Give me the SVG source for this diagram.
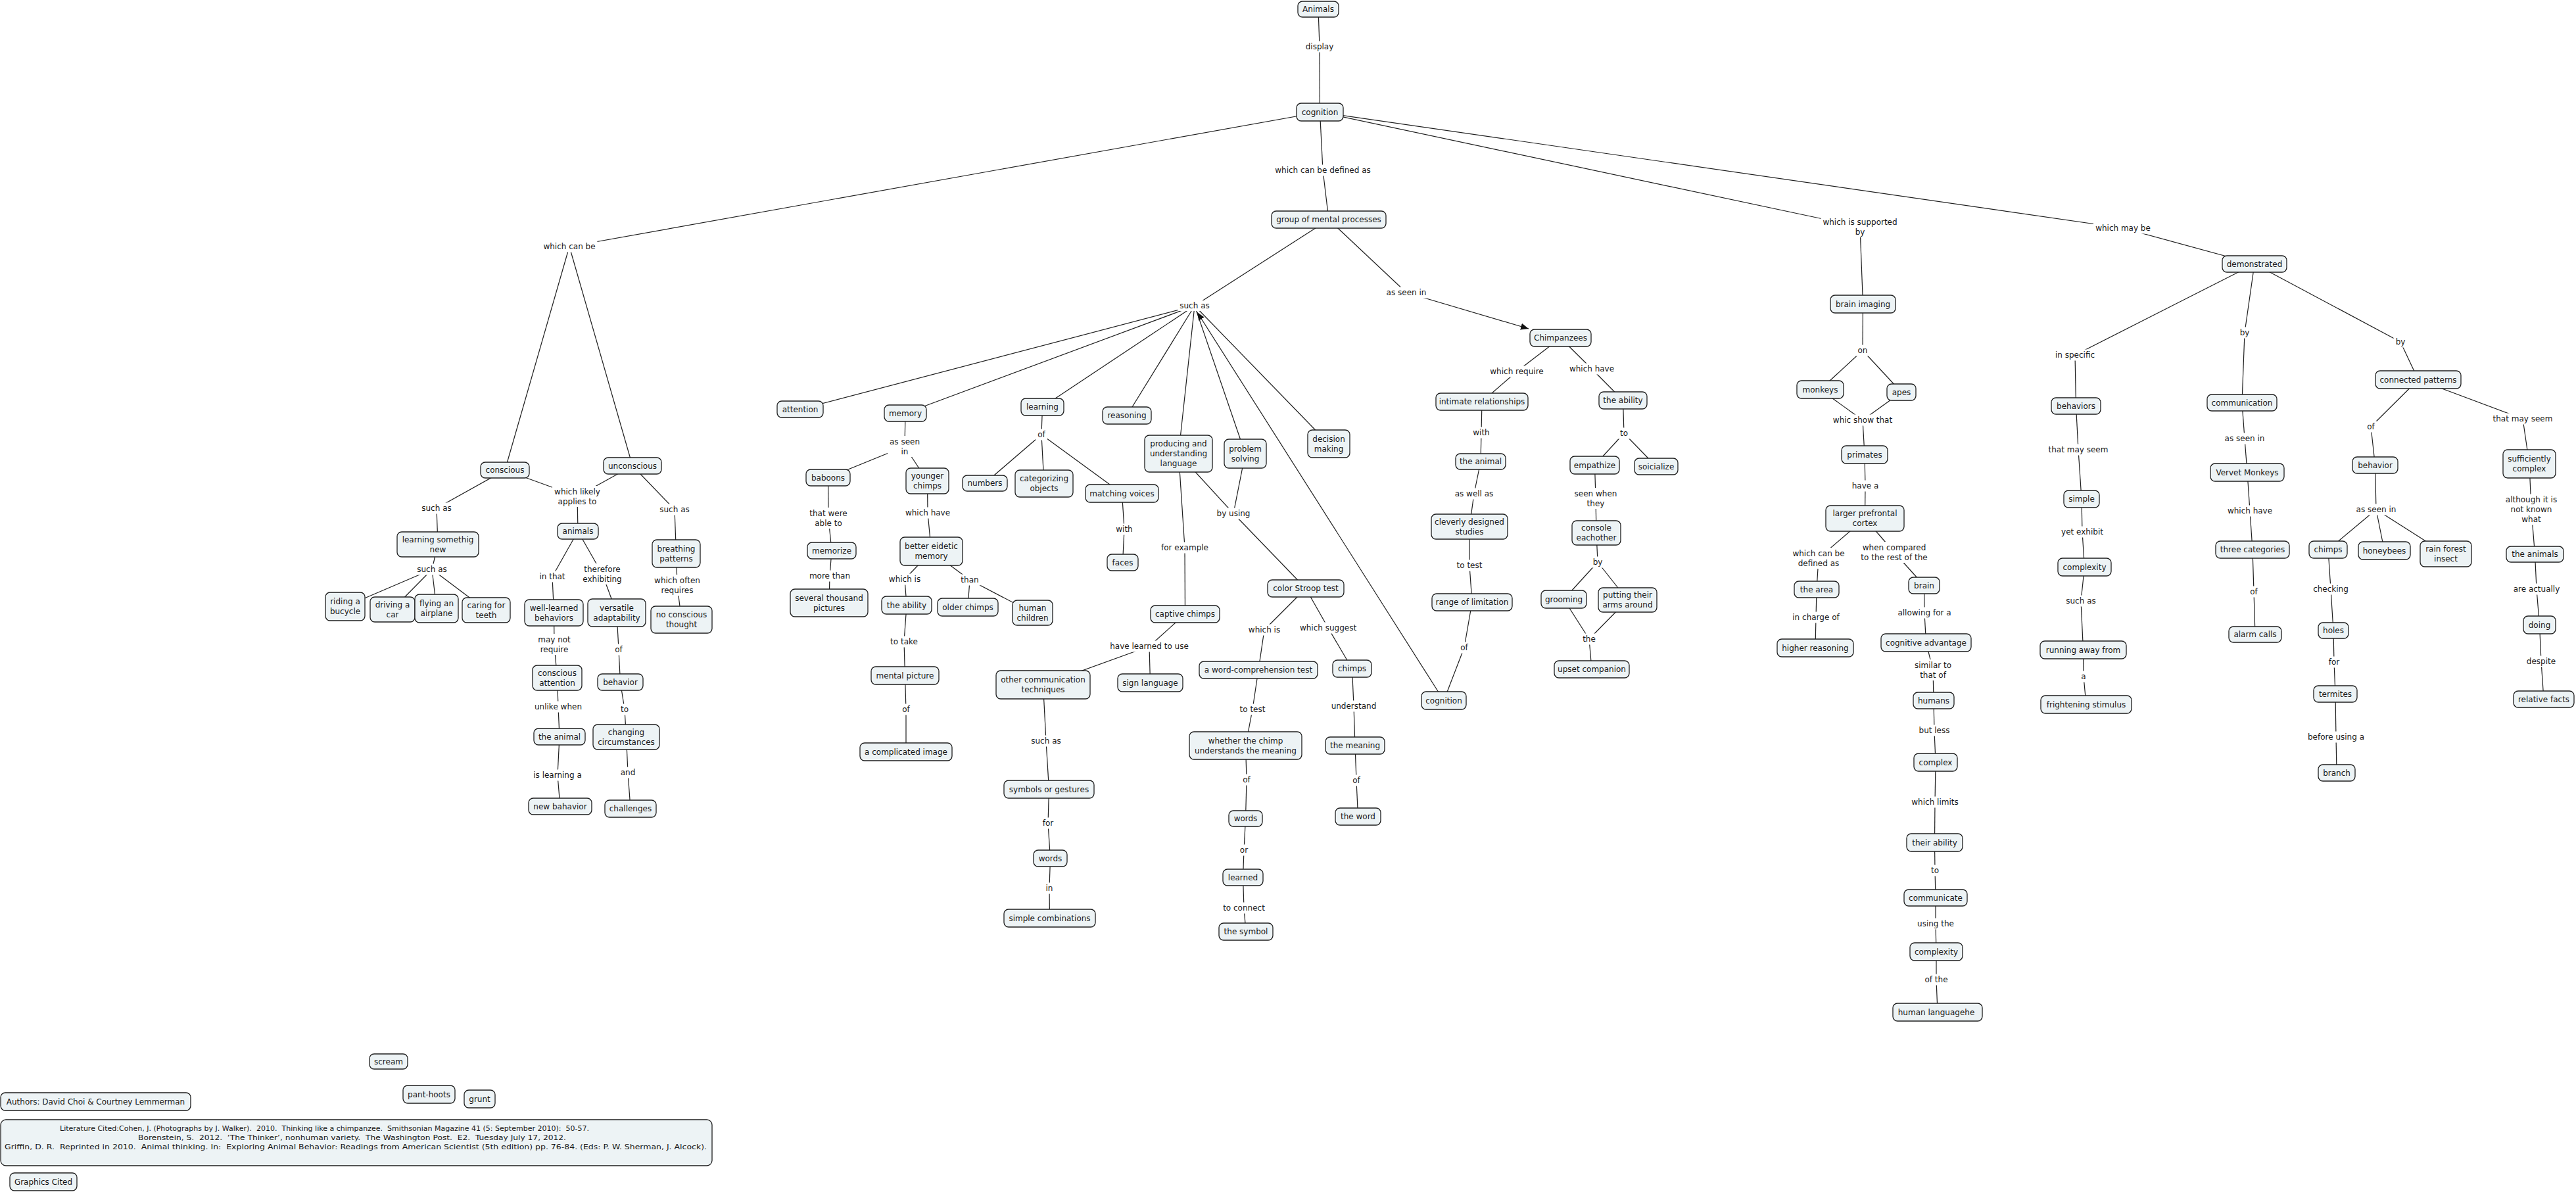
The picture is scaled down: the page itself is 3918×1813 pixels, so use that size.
<svg xmlns="http://www.w3.org/2000/svg" width="3918" height="1813" viewBox="0 0 3918 1813">
<style>
text{font-family:"DejaVu Sans",Verdana,sans-serif;font-size:12px;fill:#161616;text-anchor:middle}
.nd rect{fill:#edf3f5;stroke:#1e1e1e;stroke-width:1.3}
.lb rect{fill:#ffffff;stroke:none}
#connectors line{stroke:#1e1e1e;stroke-width:1.2}
.lit{font-size:10.5px;text-anchor:start}
</style>
<defs>
<marker id="arrow" viewBox="0 0 12 10" refX="12" refY="5" markerWidth="12" markerHeight="10" orient="auto" markerUnits="userSpaceOnUse"><path d="M0,0 L12,5 L0,10 z" fill="#111"/></marker>
</defs>
<rect x="0" y="0" width="3918" height="1813" fill="#ffffff"/>
<g id="connectors">
<line x1="2005" y1="14" x2="2007" y2="71"/><line x1="2007" y1="71" x2="2007.5" y2="170.5"/>
<line x1="2007.5" y1="170.5" x2="2012" y2="259"/><line x1="2012" y1="259" x2="2021" y2="334"/>
<line x1="2007.5" y1="170.5" x2="866" y2="375"/>
<line x1="866" y1="375" x2="768" y2="715"/><line x1="866" y1="375" x2="962" y2="708.5"/>
<line x1="2007.5" y1="170.5" x2="2829" y2="345"/><line x1="2829" y1="345" x2="2833.5" y2="462.5"/>
<line x1="2007.5" y1="170.5" x2="3229" y2="347"/><line x1="3229" y1="347" x2="3429" y2="401.5"/>
<line x1="2021" y1="334" x2="1817" y2="465"/>
<line x1="1817" y1="465" x2="1217" y2="622.5"/><line x1="1817" y1="465" x2="1377" y2="628.5"/><line x1="1817" y1="465" x2="1585.5" y2="619"/><line x1="1817" y1="465" x2="1714" y2="632"/><line x1="1817" y1="465" x2="1792.5" y2="690"/><line x1="1817" y1="465" x2="1894" y2="690"/><line x1="1817" y1="465" x2="2021" y2="675"/>
<line x1="2021" y1="334" x2="2139" y2="445"/>
<line x1="2139" y1="445" x2="2325" y2="500" marker-end="url(#arrow)"/>
<line x1="2196" y1="1065.5" x2="1821" y2="475" marker-end="url(#arrow)"/>
<line x1="1377" y1="628.5" x2="1376" y2="679"/><line x1="1376" y1="679" x2="1259.5" y2="726.5"/><line x1="1376" y1="679" x2="1410.5" y2="731.5"/>
<line x1="1259.5" y1="726.5" x2="1260" y2="788"/><line x1="1260" y1="788" x2="1265" y2="837.5"/>
<line x1="1265" y1="837.5" x2="1262" y2="876"/><line x1="1262" y1="876" x2="1261" y2="917"/>
<line x1="1410.5" y1="731.5" x2="1411" y2="780"/><line x1="1411" y1="780" x2="1416.5" y2="838.5"/>
<line x1="1416.5" y1="838.5" x2="1376" y2="881"/><line x1="1376" y1="881" x2="1379" y2="920.5"/>
<line x1="1416.5" y1="838.5" x2="1475" y2="882"/><line x1="1475" y1="882" x2="1472" y2="923.5"/><line x1="1475" y1="882" x2="1570.5" y2="932"/>
<line x1="1379" y1="920.5" x2="1375" y2="976"/><line x1="1375" y1="976" x2="1376.5" y2="1027.5"/>
<line x1="1376.5" y1="1027.5" x2="1378" y2="1079"/><line x1="1378" y1="1079" x2="1378" y2="1143.5"/>
<line x1="1585.5" y1="619" x2="1584" y2="661"/><line x1="1584" y1="661" x2="1498" y2="735"/><line x1="1584" y1="661" x2="1588" y2="735.5"/><line x1="1584" y1="661" x2="1706.5" y2="750.5"/>
<line x1="1706.5" y1="750.5" x2="1710" y2="805"/><line x1="1710" y1="805" x2="1707.5" y2="855.5"/>
<line x1="1792.5" y1="690" x2="1802" y2="833"/><line x1="1802" y1="833" x2="1802.5" y2="934"/>
<line x1="1802.5" y1="934" x2="1748" y2="983"/><line x1="1748" y1="983" x2="1586.5" y2="1041.5"/><line x1="1748" y1="983" x2="1749.5" y2="1038.5"/>
<line x1="1586.5" y1="1041.5" x2="1591" y2="1127"/><line x1="1591" y1="1127" x2="1595.5" y2="1200.5"/>
<line x1="1595.5" y1="1200.5" x2="1594" y2="1252"/><line x1="1594" y1="1252" x2="1597.5" y2="1305.5"/>
<line x1="1597.5" y1="1305.5" x2="1596" y2="1351"/><line x1="1596" y1="1351" x2="1596.5" y2="1396.5"/>
<line x1="1792.5" y1="690" x2="1876" y2="781"/><line x1="1894" y1="690" x2="1876" y2="781"/><line x1="1876" y1="781" x2="1986" y2="895"/>
<line x1="1986" y1="895" x2="1923" y2="958"/><line x1="1923" y1="958" x2="1914" y2="1019"/>
<line x1="1914" y1="1019" x2="1905" y2="1079"/><line x1="1905" y1="1079" x2="1894.5" y2="1134"/>
<line x1="1894.5" y1="1134" x2="1896" y2="1186"/><line x1="1896" y1="1186" x2="1894.5" y2="1245"/>
<line x1="1894.5" y1="1245" x2="1892" y2="1293"/><line x1="1892" y1="1293" x2="1890.5" y2="1334.5"/>
<line x1="1890.5" y1="1334.5" x2="1892" y2="1381"/><line x1="1892" y1="1381" x2="1895" y2="1417"/>
<line x1="1986" y1="895" x2="2020" y2="955"/><line x1="2020" y1="955" x2="2056.5" y2="1017"/>
<line x1="2056.5" y1="1017" x2="2059" y2="1074"/><line x1="2059" y1="1074" x2="2061" y2="1134"/>
<line x1="2061" y1="1134" x2="2063" y2="1187"/><line x1="2063" y1="1187" x2="2065.5" y2="1242"/>
<line x1="2373.5" y1="514" x2="2307" y2="565"/><line x1="2307" y1="565" x2="2254" y2="611"/>
<line x1="2254" y1="611" x2="2253" y2="658"/><line x1="2253" y1="658" x2="2252" y2="702"/>
<line x1="2252" y1="702" x2="2242" y2="751"/><line x1="2242" y1="751" x2="2235" y2="801"/>
<line x1="2235" y1="801" x2="2235" y2="860"/><line x1="2235" y1="860" x2="2239" y2="916"/>
<line x1="2239" y1="916" x2="2227" y2="985"/><line x1="2227" y1="985" x2="2196" y2="1065.5"/>
<line x1="2373.5" y1="514" x2="2421" y2="561"/><line x1="2421" y1="561" x2="2468.5" y2="609"/>
<line x1="2468.5" y1="609" x2="2470" y2="659"/><line x1="2470" y1="659" x2="2425.5" y2="707.5"/><line x1="2470" y1="659" x2="2519" y2="709.5"/>
<line x1="2425.5" y1="707.5" x2="2427" y2="758"/><line x1="2427" y1="758" x2="2428" y2="810.5"/>
<line x1="2428" y1="810.5" x2="2430" y2="855"/><line x1="2430" y1="855" x2="2378.5" y2="911.5"/><line x1="2430" y1="855" x2="2475.5" y2="912.5"/>
<line x1="2378.5" y1="911.5" x2="2417" y2="972"/><line x1="2475.5" y1="912.5" x2="2417" y2="972"/><line x1="2417" y1="972" x2="2421" y2="1018"/>
<line x1="2833.5" y1="462.5" x2="2833" y2="533"/><line x1="2833" y1="533" x2="2768.5" y2="592.5"/><line x1="2833" y1="533" x2="2892" y2="596.5"/>
<line x1="2768.5" y1="592.5" x2="2833" y2="639"/><line x1="2892" y1="596.5" x2="2833" y2="639"/><line x1="2833" y1="639" x2="2836" y2="691.5"/>
<line x1="2836" y1="691.5" x2="2837" y2="739"/><line x1="2837" y1="739" x2="2836.5" y2="788.5"/>
<line x1="2836.5" y1="788.5" x2="2766" y2="849"/><line x1="2766" y1="849" x2="2763" y2="896.5"/>
<line x1="2763" y1="896.5" x2="2762" y2="939"/><line x1="2762" y1="939" x2="2761" y2="985.5"/>
<line x1="2836.5" y1="788.5" x2="2881" y2="840"/><line x1="2881" y1="840" x2="2926.5" y2="890.5"/>
<line x1="2926.5" y1="890.5" x2="2927" y2="932"/><line x1="2927" y1="932" x2="2929.5" y2="977.5"/>
<line x1="2929.5" y1="977.5" x2="2940" y2="1019"/><line x1="2940" y1="1019" x2="2941" y2="1065.5"/>
<line x1="2941" y1="1065.5" x2="2942" y2="1111"/><line x1="2942" y1="1111" x2="2944" y2="1159.5"/>
<line x1="2944" y1="1159.5" x2="2943" y2="1220"/><line x1="2943" y1="1220" x2="2942.5" y2="1281.5"/>
<line x1="2942.5" y1="1281.5" x2="2943" y2="1324"/><line x1="2943" y1="1324" x2="2944" y2="1365.5"/>
<line x1="2944" y1="1365.5" x2="2944" y2="1405"/><line x1="2944" y1="1405" x2="2945" y2="1447.5"/>
<line x1="2945" y1="1447.5" x2="2945" y2="1490"/><line x1="2945" y1="1490" x2="2947" y2="1539.5"/>
<line x1="3429" y1="401.5" x2="3156" y2="540"/><line x1="3156" y1="540" x2="3157.5" y2="617.5"/>
<line x1="3157.5" y1="617.5" x2="3161" y2="684"/><line x1="3161" y1="684" x2="3166" y2="759"/>
<line x1="3166" y1="759" x2="3167" y2="809"/><line x1="3167" y1="809" x2="3170.5" y2="862.5"/>
<line x1="3170.5" y1="862.5" x2="3165" y2="914"/><line x1="3165" y1="914" x2="3168.5" y2="988.5"/>
<line x1="3168.5" y1="988.5" x2="3169" y2="1029"/><line x1="3169" y1="1029" x2="3173" y2="1071.5"/>
<line x1="3429" y1="401.5" x2="3414" y2="506"/><line x1="3414" y1="506" x2="3410" y2="612.5"/>
<line x1="3410" y1="612.5" x2="3414" y2="667"/><line x1="3414" y1="667" x2="3418" y2="718.5"/>
<line x1="3418" y1="718.5" x2="3422" y2="777"/><line x1="3422" y1="777" x2="3426" y2="836"/>
<line x1="3426" y1="836" x2="3428" y2="900"/><line x1="3428" y1="900" x2="3430" y2="965"/>
<line x1="3429" y1="401.5" x2="3651" y2="520"/><line x1="3651" y1="520" x2="3678" y2="577.5"/>
<line x1="3678" y1="577.5" x2="3606" y2="649"/><line x1="3606" y1="649" x2="3612.5" y2="707.5"/>
<line x1="3678" y1="577.5" x2="3837" y2="637"/><line x1="3837" y1="637" x2="3847" y2="705.5"/>
<line x1="3612.5" y1="707.5" x2="3614" y2="775"/><line x1="3614" y1="775" x2="3541" y2="836"/><line x1="3614" y1="775" x2="3626.5" y2="837.5"/><line x1="3614" y1="775" x2="3720" y2="842.5"/>
<line x1="3541" y1="836" x2="3545" y2="896"/><line x1="3545" y1="896" x2="3549" y2="959"/>
<line x1="3549" y1="959" x2="3550" y2="1007"/><line x1="3550" y1="1007" x2="3552" y2="1055.5"/>
<line x1="3552" y1="1055.5" x2="3553" y2="1121"/><line x1="3553" y1="1121" x2="3554" y2="1175.5"/>
<line x1="3847" y1="705.5" x2="3850" y2="775"/><line x1="3850" y1="775" x2="3855.5" y2="843"/>
<line x1="3855.5" y1="843" x2="3858" y2="896"/><line x1="3858" y1="896" x2="3862.5" y2="950.5"/>
<line x1="3862.5" y1="950.5" x2="3865" y2="1006"/><line x1="3865" y1="1006" x2="3869" y2="1063.5"/>
<line x1="768" y1="715" x2="664" y2="773"/><line x1="664" y1="773" x2="666" y2="828"/>
<line x1="666" y1="828" x2="657" y2="866"/><line x1="657" y1="866" x2="525" y2="922.5"/><line x1="657" y1="866" x2="597" y2="927"/><line x1="657" y1="866" x2="664" y2="925.5"/><line x1="657" y1="866" x2="739.5" y2="928"/>
<line x1="768" y1="715" x2="878" y2="755"/><line x1="962" y1="708.5" x2="878" y2="755"/><line x1="878" y1="755" x2="879" y2="808"/>
<line x1="962" y1="708.5" x2="1026" y2="775"/><line x1="1026" y1="775" x2="1028.5" y2="842"/>
<line x1="1028.5" y1="842" x2="1030" y2="890"/><line x1="1030" y1="890" x2="1036.5" y2="942.5"/>
<line x1="879" y1="808" x2="840" y2="877"/><line x1="840" y1="877" x2="842.5" y2="932"/>
<line x1="842.5" y1="932" x2="843" y2="980"/><line x1="843" y1="980" x2="847.5" y2="1031"/>
<line x1="847.5" y1="1031" x2="849" y2="1075"/><line x1="849" y1="1075" x2="851" y2="1120.5"/>
<line x1="851" y1="1120.5" x2="848" y2="1179"/><line x1="848" y1="1179" x2="852" y2="1226.5"/>
<line x1="879" y1="808" x2="916" y2="873"/><line x1="916" y1="873" x2="938" y2="932"/>
<line x1="938" y1="932" x2="941" y2="988"/><line x1="941" y1="988" x2="943.5" y2="1037.5"/>
<line x1="943.5" y1="1037.5" x2="950" y2="1079"/><line x1="950" y1="1079" x2="952.5" y2="1121"/>
<line x1="952.5" y1="1121" x2="955" y2="1175"/><line x1="955" y1="1175" x2="959" y2="1230"/>
</g>
<g id="labels">
<g id="l-display" class="lb"><rect x="1982.5" y="62.5" width="49" height="17"/><text x="2007" y="75">display</text></g>
<g id="l-defined" class="lb"><rect x="1936.5" y="250.5" width="151" height="17"/><text x="2012" y="263">which can be defined as</text></g>
<g id="l-whichcanbe" class="lb"><rect x="823.5" y="366.5" width="85" height="17"/><text x="866" y="379">which can be</text></g>
<g id="l-supported" class="lb"><rect x="2769.5" y="329" width="119" height="32"/><text x="2829" y="341.5">which is supported<tspan x="2829" dy="15">by</tspan></text></g>
<g id="l-maybe" class="lb"><rect x="3184" y="338.5" width="90" height="17"/><text x="3229" y="351">which may be</text></g>
<g id="l-suchas1" class="lb"><rect x="1791.5" y="457" width="51" height="16"/><text x="1817" y="469">such as</text></g>
<g id="l-asseenin1" class="lb"><rect x="2105.5" y="436.5" width="67" height="17"/><text x="2139" y="449">as seen in</text></g>
<g id="l-asseenmem" class="lb"><rect x="1350" y="663" width="52" height="32"/><text x="1376" y="675.5">as seen<tspan x="1376" dy="15">in</tspan></text></g>
<g id="l-oflearn" class="lb"><rect x="1575" y="652.5" width="18" height="17"/><text x="1584" y="665">of</text></g>
<g id="l-ablet" class="lb"><rect x="1228" y="772" width="64" height="32"/><text x="1260" y="784.5">that were<tspan x="1260" dy="15">able to</tspan></text></g>
<g id="l-whichhave1" class="lb"><rect x="1374" y="771.5" width="74" height="17"/><text x="1411" y="784">which have</text></g>
<g id="l-with1" class="lb"><rect x="1694.5" y="796.5" width="31" height="17"/><text x="1710" y="809">with</text></g>
<g id="l-forexample" class="lb"><rect x="1763" y="824.5" width="78" height="17"/><text x="1802" y="837">for example</text></g>
<g id="l-byusing" class="lb"><rect x="1847.5" y="772.5" width="57" height="17"/><text x="1876" y="785">by using</text></g>
<g id="l-morethan" class="lb"><rect x="1228" y="867.5" width="68" height="17"/><text x="1262" y="880">more than</text></g>
<g id="l-whichis1" class="lb"><rect x="1349" y="872.5" width="54" height="17"/><text x="1376" y="885">which is</text></g>
<g id="l-than" class="lb"><rect x="1458.5" y="873.5" width="33" height="17"/><text x="1475" y="886">than</text></g>
<g id="l-totake" class="lb"><rect x="1351" y="967.5" width="48" height="17"/><text x="1375" y="980">to take</text></g>
<g id="l-ofmental" class="lb"><rect x="1369" y="1070.5" width="18" height="17"/><text x="1378" y="1083">of</text></g>
<g id="l-havelearned" class="lb"><rect x="1685" y="974.5" width="126" height="17"/><text x="1748" y="987">have learned to use</text></g>
<g id="l-whichis2" class="lb"><rect x="1896" y="949.5" width="54" height="17"/><text x="1923" y="962">which is</text></g>
<g id="l-suggest" class="lb"><rect x="1974" y="946.5" width="92" height="17"/><text x="2020" y="959">which suggest</text></g>
<g id="l-suchasother" class="lb"><rect x="1565.5" y="1118.5" width="51" height="17"/><text x="1591" y="1131">such as</text></g>
<g id="l-for" class="lb"><rect x="1583" y="1243.5" width="22" height="17"/><text x="1594" y="1256">for</text></g>
<g id="l-in" class="lb"><rect x="1587.5" y="1342.5" width="17" height="17"/><text x="1596" y="1355">in</text></g>
<g id="l-totest1" class="lb"><rect x="1882.5" y="1070.5" width="45" height="17"/><text x="1905" y="1083">to test</text></g>
<g id="l-understand" class="lb"><rect x="2021.5" y="1065.5" width="75" height="17"/><text x="2059" y="1078">understand</text></g>
<g id="l-ofwhether" class="lb"><rect x="1887" y="1177.5" width="18" height="17"/><text x="1896" y="1190">of</text></g>
<g id="l-ofmeaning" class="lb"><rect x="2054" y="1178.5" width="18" height="17"/><text x="2063" y="1191">of</text></g>
<g id="l-or" class="lb"><rect x="1883" y="1284.5" width="18" height="17"/><text x="1892" y="1297">or</text></g>
<g id="l-toconnect" class="lb"><rect x="1857.5" y="1372.5" width="69" height="17"/><text x="1892" y="1385">to connect</text></g>
<g id="l-require" class="lb"><rect x="2263" y="556.5" width="88" height="17"/><text x="2307" y="569">which require</text></g>
<g id="l-whichhave2" class="lb"><rect x="2384" y="552.5" width="74" height="17"/><text x="2421" y="565">which have</text></g>
<g id="l-with2" class="lb"><rect x="2237.5" y="649.5" width="31" height="17"/><text x="2253" y="662">with</text></g>
<g id="l-to1" class="lb"><rect x="2461" y="650.5" width="18" height="17"/><text x="2470" y="663">to</text></g>
<g id="l-aswellas" class="lb"><rect x="2209.5" y="742.5" width="65" height="17"/><text x="2242" y="755">as well as</text></g>
<g id="l-seenwhen" class="lb"><rect x="2391.5" y="742" width="71" height="32"/><text x="2427" y="754.5">seen when<tspan x="2427" dy="15">they</tspan></text></g>
<g id="l-totest2" class="lb"><rect x="2212.5" y="851.5" width="45" height="17"/><text x="2235" y="864">to test</text></g>
<g id="l-by1" class="lb"><rect x="2419.5" y="846.5" width="21" height="17"/><text x="2430" y="859">by</text></g>
<g id="l-ofrange" class="lb"><rect x="2218" y="976.5" width="18" height="17"/><text x="2227" y="989">of</text></g>
<g id="l-the" class="lb"><rect x="2404" y="963.5" width="26" height="17"/><text x="2417" y="976">the</text></g>
<g id="l-on" class="lb"><rect x="2822.5" y="524.5" width="21" height="17"/><text x="2833" y="537">on</text></g>
<g id="l-whicshow" class="lb"><rect x="2785" y="630.5" width="96" height="17"/><text x="2833" y="643">whic show that</text></g>
<g id="l-havea" class="lb"><rect x="2813.5" y="730.5" width="47" height="17"/><text x="2837" y="743">have a</text></g>
<g id="l-defined2" class="lb"><rect x="2723.5" y="833" width="85" height="32"/><text x="2766" y="845.5">which can be<tspan x="2766" dy="15">defined as</tspan></text></g>
<g id="l-compared" class="lb"><rect x="2827.5" y="824" width="107" height="32"/><text x="2881" y="836.5">when compared<tspan x="2881" dy="15">to the rest of the</tspan></text></g>
<g id="l-incharge" class="lb"><rect x="2723.5" y="930.5" width="77" height="17"/><text x="2762" y="943">in charge of</text></g>
<g id="l-allowing" class="lb"><rect x="2883.5" y="923.5" width="87" height="17"/><text x="2927" y="936">allowing for a</text></g>
<g id="l-similar" class="lb"><rect x="2909" y="1003" width="62" height="32"/><text x="2940" y="1015.5">similar to<tspan x="2940" dy="15">that of</tspan></text></g>
<g id="l-butless" class="lb"><rect x="2915.5" y="1102.5" width="53" height="17"/><text x="2942" y="1115">but less</text></g>
<g id="l-limits" class="lb"><rect x="2904.5" y="1211.5" width="77" height="17"/><text x="2943" y="1224">which limits</text></g>
<g id="l-to2" class="lb"><rect x="2934" y="1315.5" width="18" height="17"/><text x="2943" y="1328">to</text></g>
<g id="l-usingthe" class="lb"><rect x="2913" y="1396.5" width="62" height="17"/><text x="2944" y="1409">using the</text></g>
<g id="l-ofthe" class="lb"><rect x="2924.5" y="1481.5" width="41" height="17"/><text x="2945" y="1494">of the</text></g>
<g id="l-inspecific" class="lb"><rect x="3123" y="531.5" width="66" height="17"/><text x="3156" y="544">in specific</text></g>
<g id="l-mayseem1" class="lb"><rect x="3112.5" y="675.5" width="97" height="17"/><text x="3161" y="688">that may seem</text></g>
<g id="l-yetexhibit" class="lb"><rect x="3132" y="800.5" width="70" height="17"/><text x="3167" y="813">yet exhibit</text></g>
<g id="l-suchascx" class="lb"><rect x="3139.5" y="905.5" width="51" height="17"/><text x="3165" y="918">such as</text></g>
<g id="l-a" class="lb"><rect x="3162.5" y="1020.5" width="13" height="17"/><text x="3169" y="1033">a</text></g>
<g id="l-by2" class="lb"><rect x="3403.5" y="497.5" width="21" height="17"/><text x="3414" y="510">by</text></g>
<g id="l-by3" class="lb"><rect x="3640.5" y="511.5" width="21" height="17"/><text x="3651" y="524">by</text></g>
<g id="l-asseenin2" class="lb"><rect x="3380.5" y="658.5" width="67" height="17"/><text x="3414" y="671">as seen in</text></g>
<g id="l-ofcp" class="lb"><rect x="3597" y="640.5" width="18" height="17"/><text x="3606" y="653">of</text></g>
<g id="l-mayseem2" class="lb"><rect x="3788.5" y="628.5" width="97" height="17"/><text x="3837" y="641">that may seem</text></g>
<g id="l-whichhave3" class="lb"><rect x="3385" y="768.5" width="74" height="17"/><text x="3422" y="781">which have</text></g>
<g id="l-asseenin3" class="lb"><rect x="3580.5" y="766.5" width="67" height="17"/><text x="3614" y="779">as seen in</text></g>
<g id="l-although" class="lb"><rect x="3808" y="751.5" width="84" height="47"/><text x="3850" y="764">although it is<tspan x="3850" dy="15">not known</tspan><tspan x="3850" dy="15">what</tspan></text></g>
<g id="l-ofthree" class="lb"><rect x="3419" y="891.5" width="18" height="17"/><text x="3428" y="904">of</text></g>
<g id="l-checking" class="lb"><rect x="3515.5" y="887.5" width="59" height="17"/><text x="3545" y="900">checking</text></g>
<g id="l-actually" class="lb"><rect x="3819.5" y="887.5" width="77" height="17"/><text x="3858" y="900">are actually</text></g>
<g id="l-for2" class="lb"><rect x="3539" y="998.5" width="22" height="17"/><text x="3550" y="1011">for</text></g>
<g id="l-despite" class="lb"><rect x="3840" y="997.5" width="50" height="17"/><text x="3865" y="1010">despite</text></g>
<g id="l-beforeusing" class="lb"><rect x="3507" y="1112.5" width="92" height="17"/><text x="3553" y="1125">before using a</text></g>
<g id="l-suchasc" class="lb"><rect x="638.5" y="764.5" width="51" height="17"/><text x="664" y="777">such as</text></g>
<g id="l-likely" class="lb"><rect x="840" y="739" width="76" height="32"/><text x="878" y="751.5">which likely<tspan x="878" dy="15">applies to</tspan></text></g>
<g id="l-suchasu" class="lb"><rect x="1000.5" y="766.5" width="51" height="17"/><text x="1026" y="779">such as</text></g>
<g id="l-suchasl" class="lb"><rect x="631.5" y="857.5" width="51" height="17"/><text x="657" y="870">such as</text></g>
<g id="l-inthat" class="lb"><rect x="817.5" y="868.5" width="45" height="17"/><text x="840" y="881">in that</text></g>
<g id="l-therefore" class="lb"><rect x="883" y="857" width="66" height="32"/><text x="916" y="869.5">therefore<tspan x="916" dy="15">exhibiting</tspan></text></g>
<g id="l-often" class="lb"><rect x="992" y="874" width="76" height="32"/><text x="1030" y="886.5">which often<tspan x="1030" dy="15">requires</tspan></text></g>
<g id="l-maynot" class="lb"><rect x="815" y="964" width="56" height="32"/><text x="843" y="976.5">may not<tspan x="843" dy="15">require</tspan></text></g>
<g id="l-ofvers" class="lb"><rect x="932" y="979.5" width="18" height="17"/><text x="941" y="992">of</text></g>
<g id="l-unlike" class="lb"><rect x="810" y="1066.5" width="78" height="17"/><text x="849" y="1079">unlike when</text></g>
<g id="l-to3" class="lb"><rect x="941" y="1070.5" width="18" height="17"/><text x="950" y="1083">to</text></g>
<g id="l-islearning" class="lb"><rect x="808" y="1170.5" width="80" height="17"/><text x="848" y="1183">is learning a</text></g>
<g id="l-and" class="lb"><rect x="940.5" y="1166.5" width="29" height="17"/><text x="955" y="1179">and</text></g>
</g>
<g id="n-animals" class="nd"><rect x="1974" y="2" width="62" height="24" rx="7"/><text x="2005" y="18">Animals</text></g>
<g id="n-cognition" class="nd"><rect x="1972" y="157" width="71" height="27" rx="7"/><text x="2007.5" y="174.5">cognition</text></g>
<g id="n-group" class="nd"><rect x="1934" y="321" width="174" height="26" rx="7"/><text x="2021" y="338">group of mental processes</text></g>
<g id="n-conscious" class="nd"><rect x="731" y="703" width="74" height="24" rx="7"/><text x="768" y="719">conscious</text></g>
<g id="n-unconscious" class="nd"><rect x="918" y="696" width="88" height="25" rx="7"/><text x="962" y="712.5">unconscious</text></g>
<g id="n-learnnew" class="nd"><rect x="604" y="809" width="124" height="38" rx="7"/><text x="666" y="824.5">learning somethig<tspan x="666" dy="15">new</tspan></text></g>
<g id="n-animals2" class="nd"><rect x="848" y="796" width="62" height="24" rx="7"/><text x="879" y="812">animals</text></g>
<g id="n-breathing" class="nd"><rect x="992" y="821" width="73" height="42" rx="7"/><text x="1028.5" y="838.5">breathing<tspan x="1028.5" dy="15">patterns</tspan></text></g>
<g id="n-riding" class="nd"><rect x="495" y="901" width="60" height="43" rx="7"/><text x="525" y="919">riding a<tspan x="525" dy="15">bucycle</tspan></text></g>
<g id="n-driving" class="nd"><rect x="563" y="908" width="68" height="38" rx="7"/><text x="597" y="923.5">driving a<tspan x="597" dy="15">car</tspan></text></g>
<g id="n-flying" class="nd"><rect x="631" y="904" width="66" height="43" rx="7"/><text x="664" y="922">flying an<tspan x="664" dy="15">airplane</tspan></text></g>
<g id="n-caring" class="nd"><rect x="703" y="909" width="73" height="38" rx="7"/><text x="739.5" y="924.5">caring for<tspan x="739.5" dy="15">teeth</tspan></text></g>
<g id="n-welllearned" class="nd"><rect x="798" y="912" width="89" height="40" rx="7"/><text x="842.5" y="928.5">well-learned<tspan x="842.5" dy="15">behaviors</tspan></text></g>
<g id="n-versatile" class="nd"><rect x="894" y="911" width="88" height="42" rx="7"/><text x="938" y="928.5">versatile<tspan x="938" dy="15">adaptability</tspan></text></g>
<g id="n-noconscious" class="nd"><rect x="990" y="922" width="93" height="41" rx="7"/><text x="1036.5" y="939">no conscious<tspan x="1036.5" dy="15">thought</tspan></text></g>
<g id="n-consattn" class="nd"><rect x="810" y="1012" width="75" height="38" rx="7"/><text x="847.5" y="1027.5">conscious<tspan x="847.5" dy="15">attention</tspan></text></g>
<g id="n-behavior1" class="nd"><rect x="909" y="1025" width="69" height="25" rx="7"/><text x="943.5" y="1041.5">behavior</text></g>
<g id="n-theanimal1" class="nd"><rect x="812" y="1108" width="78" height="25" rx="7"/><text x="851" y="1124.5">the animal</text></g>
<g id="n-changing" class="nd"><rect x="902" y="1102" width="101" height="38" rx="7"/><text x="952.5" y="1117.5">changing<tspan x="952.5" dy="15">circumstances</tspan></text></g>
<g id="n-newbeh" class="nd"><rect x="804" y="1214" width="96" height="25" rx="7"/><text x="852" y="1230.5">new bahavior</text></g>
<g id="n-challenges" class="nd"><rect x="920" y="1217" width="78" height="26" rx="7"/><text x="959" y="1234">challenges</text></g>
<g id="n-attention" class="nd"><rect x="1182" y="610" width="70" height="25" rx="7"/><text x="1217" y="626.5">attention</text></g>
<g id="n-memory" class="nd"><rect x="1345" y="616" width="64" height="25" rx="7"/><text x="1377" y="632.5">memory</text></g>
<g id="n-learning" class="nd"><rect x="1553" y="606" width="65" height="26" rx="7"/><text x="1585.5" y="623">learning</text></g>
<g id="n-reasoning" class="nd"><rect x="1677" y="619" width="74" height="26" rx="7"/><text x="1714" y="636">reasoning</text></g>
<g id="n-producing" class="nd"><rect x="1741" y="662" width="103" height="56" rx="7"/><text x="1792.5" y="679">producing and<tspan x="1792.5" dy="15">understanding</tspan><tspan x="1792.5" dy="15">language</tspan></text></g>
<g id="n-problem" class="nd"><rect x="1862" y="668" width="64" height="44" rx="7"/><text x="1894" y="686.5">problem<tspan x="1894" dy="15">solving</tspan></text></g>
<g id="n-decision" class="nd"><rect x="1989" y="654" width="64" height="42" rx="7"/><text x="2021" y="671.5">decision<tspan x="2021" dy="15">making</tspan></text></g>
<g id="n-baboons" class="nd"><rect x="1226" y="714" width="67" height="25" rx="7"/><text x="1259.5" y="730.5">baboons</text></g>
<g id="n-younger" class="nd"><rect x="1378" y="712" width="65" height="39" rx="7"/><text x="1410.5" y="728">younger<tspan x="1410.5" dy="15">chimps</tspan></text></g>
<g id="n-numbers" class="nd"><rect x="1464" y="723" width="68" height="24" rx="7"/><text x="1498" y="739">numbers</text></g>
<g id="n-categorizing" class="nd"><rect x="1544" y="715" width="88" height="41" rx="7"/><text x="1588" y="732">categorizing<tspan x="1588" dy="15">objects</tspan></text></g>
<g id="n-matching" class="nd"><rect x="1651" y="737" width="111" height="27" rx="7"/><text x="1706.5" y="754.5">matching voices</text></g>
<g id="n-faces" class="nd"><rect x="1684" y="843" width="47" height="25" rx="7"/><text x="1707.5" y="859.5">faces</text></g>
<g id="n-memorize" class="nd"><rect x="1228" y="825" width="74" height="25" rx="7"/><text x="1265" y="841.5">memorize</text></g>
<g id="n-eidetic" class="nd"><rect x="1369" y="817" width="95" height="43" rx="7"/><text x="1416.5" y="835">better eidetic<tspan x="1416.5" dy="15">memory</tspan></text></g>
<g id="n-several" class="nd"><rect x="1202" y="896" width="118" height="42" rx="7"/><text x="1261" y="913.5">several thousand<tspan x="1261" dy="15">pictures</tspan></text></g>
<g id="n-ability1" class="nd"><rect x="1341" y="907" width="76" height="27" rx="7"/><text x="1379" y="924.5">the ability</text></g>
<g id="n-older" class="nd"><rect x="1426" y="910" width="92" height="27" rx="7"/><text x="1472" y="927.5">older chimps</text></g>
<g id="n-human" class="nd"><rect x="1540" y="913" width="61" height="38" rx="7"/><text x="1570.5" y="928.5">human<tspan x="1570.5" dy="15">children</tspan></text></g>
<g id="n-stroop" class="nd"><rect x="1928" y="882" width="116" height="26" rx="7"/><text x="1986" y="899">color Stroop test</text></g>
<g id="n-captive" class="nd"><rect x="1750" y="921" width="105" height="26" rx="7"/><text x="1802.5" y="938">captive chimps</text></g>
<g id="n-mental" class="nd"><rect x="1325" y="1014" width="103" height="27" rx="7"/><text x="1376.5" y="1031.5">mental picture</text></g>
<g id="n-complicated" class="nd"><rect x="1308" y="1130" width="140" height="27" rx="7"/><text x="1378" y="1147.5">a complicated image</text></g>
<g id="n-othercomm" class="nd"><rect x="1515" y="1020" width="143" height="43" rx="7"/><text x="1586.5" y="1038">other communication<tspan x="1586.5" dy="15">techniques</tspan></text></g>
<g id="n-sign" class="nd"><rect x="1700" y="1025" width="99" height="27" rx="7"/><text x="1749.5" y="1042.5">sign language</text></g>
<g id="n-symbols" class="nd"><rect x="1527" y="1187" width="137" height="27" rx="7"/><text x="1595.5" y="1204.5">symbols or gestures</text></g>
<g id="n-words1" class="nd"><rect x="1572" y="1293" width="51" height="25" rx="7"/><text x="1597.5" y="1309.5">words</text></g>
<g id="n-simplecomb" class="nd"><rect x="1527" y="1383" width="139" height="27" rx="7"/><text x="1596.5" y="1400.5">simple combinations</text></g>
<g id="n-wordcomp" class="nd"><rect x="1824" y="1006" width="180" height="26" rx="7"/><text x="1914" y="1023">a word-comprehension test</text></g>
<g id="n-chimps1" class="nd"><rect x="2027" y="1004" width="59" height="26" rx="7"/><text x="2056.5" y="1021">chimps</text></g>
<g id="n-whether" class="nd"><rect x="1809" y="1113" width="171" height="42" rx="7"/><text x="1894.5" y="1130.5">whether the chimp<tspan x="1894.5" dy="15">understands the meaning</tspan></text></g>
<g id="n-meaning" class="nd"><rect x="2016" y="1121" width="90" height="26" rx="7"/><text x="2061" y="1138">the meaning</text></g>
<g id="n-words2" class="nd"><rect x="1869" y="1233" width="51" height="24" rx="7"/><text x="1894.5" y="1249">words</text></g>
<g id="n-theword" class="nd"><rect x="2031" y="1229" width="69" height="26" rx="7"/><text x="2065.5" y="1246">the word</text></g>
<g id="n-learned" class="nd"><rect x="1860" y="1322" width="61" height="25" rx="7"/><text x="1890.5" y="1338.5">learned</text></g>
<g id="n-symbol" class="nd"><rect x="1854" y="1404" width="82" height="26" rx="7"/><text x="1895" y="1421">the symbol</text></g>
<g id="n-cognition2" class="nd"><rect x="2162" y="1052" width="68" height="27" rx="7"/><text x="2196" y="1069.5">cognition</text></g>
<g id="n-chimpanzees" class="nd"><rect x="2327" y="501" width="93" height="26" rx="7"/><text x="2373.5" y="518">Chimpanzees</text></g>
<g id="n-intimate" class="nd"><rect x="2184" y="598" width="140" height="26" rx="7"/><text x="2254" y="615">intimate relationships</text></g>
<g id="n-ability2" class="nd"><rect x="2432" y="596" width="73" height="26" rx="7"/><text x="2468.5" y="613">the ability</text></g>
<g id="n-theanimal2" class="nd"><rect x="2214" y="690" width="76" height="24" rx="7"/><text x="2252" y="706">the animal</text></g>
<g id="n-empathize" class="nd"><rect x="2388" y="694" width="75" height="27" rx="7"/><text x="2425.5" y="711.5">empathize</text></g>
<g id="n-soicialize" class="nd"><rect x="2486" y="697" width="66" height="25" rx="7"/><text x="2519" y="713.5">soicialize</text></g>
<g id="n-cleverly" class="nd"><rect x="2177" y="782" width="116" height="38" rx="7"/><text x="2235" y="797.5">cleverly designed<tspan x="2235" dy="15">studies</tspan></text></g>
<g id="n-console" class="nd"><rect x="2391" y="792" width="74" height="37" rx="7"/><text x="2428" y="807">console<tspan x="2428" dy="15">eachother</tspan></text></g>
<g id="n-range" class="nd"><rect x="2178" y="903" width="122" height="26" rx="7"/><text x="2239" y="920">range of limitation</text></g>
<g id="n-grooming" class="nd"><rect x="2344" y="898" width="69" height="27" rx="7"/><text x="2378.5" y="915.5">grooming</text></g>
<g id="n-putting" class="nd"><rect x="2431" y="894" width="89" height="37" rx="7"/><text x="2475.5" y="909">putting their<tspan x="2475.5" dy="15">arms around</tspan></text></g>
<g id="n-upset" class="nd"><rect x="2364" y="1005" width="114" height="26" rx="7"/><text x="2421" y="1022">upset companion</text></g>
<g id="n-brainimg" class="nd"><rect x="2784" y="449" width="99" height="27" rx="7"/><text x="2833.5" y="466.5">brain imaging</text></g>
<g id="n-monkeys" class="nd"><rect x="2733" y="579" width="71" height="27" rx="7"/><text x="2768.5" y="596.5">monkeys</text></g>
<g id="n-apes" class="nd"><rect x="2870" y="584" width="44" height="25" rx="7"/><text x="2892" y="600.5">apes</text></g>
<g id="n-primates" class="nd"><rect x="2801" y="678" width="70" height="27" rx="7"/><text x="2836" y="695.5">primates</text></g>
<g id="n-pfc" class="nd"><rect x="2777" y="769" width="119" height="39" rx="7"/><text x="2836.5" y="785">larger prefrontal<tspan x="2836.5" dy="15">cortex</tspan></text></g>
<g id="n-area" class="nd"><rect x="2729" y="884" width="68" height="25" rx="7"/><text x="2763" y="900.5">the area</text></g>
<g id="n-brain" class="nd"><rect x="2903" y="878" width="47" height="25" rx="7"/><text x="2926.5" y="894.5">brain</text></g>
<g id="n-higher" class="nd"><rect x="2703" y="972" width="116" height="27" rx="7"/><text x="2761" y="989.5">higher reasoning</text></g>
<g id="n-cogadv" class="nd"><rect x="2861" y="964" width="137" height="27" rx="7"/><text x="2929.5" y="981.5">cognitive advantage</text></g>
<g id="n-humans" class="nd"><rect x="2910" y="1053" width="62" height="25" rx="7"/><text x="2941" y="1069.5">humans</text></g>
<g id="n-complex" class="nd"><rect x="2911" y="1146" width="66" height="27" rx="7"/><text x="2944" y="1163.5">complex</text></g>
<g id="n-theirability" class="nd"><rect x="2900" y="1268" width="85" height="27" rx="7"/><text x="2942.5" y="1285.5">their ability</text></g>
<g id="n-communicate" class="nd"><rect x="2896" y="1353" width="96" height="25" rx="7"/><text x="2944" y="1369.5">communicate</text></g>
<g id="n-complexity2" class="nd"><rect x="2905" y="1434" width="80" height="27" rx="7"/><text x="2945" y="1451.5">complexity</text></g>
<g id="n-humanlang" class="nd"><rect x="2879" y="1526" width="136" height="27" rx="7"/><text x="2945" y="1543.5">human languagehe</text></g>
<g id="n-demonstrated" class="nd"><rect x="3380" y="389" width="98" height="25" rx="7"/><text x="3429" y="405.5">demonstrated</text></g>
<g id="n-behaviors" class="nd"><rect x="3120" y="605" width="75" height="25" rx="7"/><text x="3157.5" y="621.5">behaviors</text></g>
<g id="n-communication" class="nd"><rect x="3357" y="600" width="106" height="25" rx="7"/><text x="3410" y="616.5">communication</text></g>
<g id="n-connected" class="nd"><rect x="3613" y="564" width="130" height="27" rx="7"/><text x="3678" y="581.5">connected patterns</text></g>
<g id="n-simple" class="nd"><rect x="3139" y="746" width="54" height="26" rx="7"/><text x="3166" y="763">simple</text></g>
<g id="n-vervet" class="nd"><rect x="3362" y="705" width="112" height="27" rx="7"/><text x="3418" y="722.5">Vervet Monkeys</text></g>
<g id="n-behavior2" class="nd"><rect x="3578" y="695" width="69" height="25" rx="7"/><text x="3612.5" y="711.5">behavior</text></g>
<g id="n-sufficiently" class="nd"><rect x="3807" y="684" width="80" height="43" rx="7"/><text x="3847" y="702">sufficiently<tspan x="3847" dy="15">complex</tspan></text></g>
<g id="n-complexity1" class="nd"><rect x="3130" y="849" width="81" height="27" rx="7"/><text x="3170.5" y="866.5">complexity</text></g>
<g id="n-three" class="nd"><rect x="3370" y="823" width="112" height="26" rx="7"/><text x="3426" y="840">three categories</text></g>
<g id="n-chimps2" class="nd"><rect x="3512" y="823" width="58" height="26" rx="7"/><text x="3541" y="840">chimps</text></g>
<g id="n-honeybees" class="nd"><rect x="3587" y="824" width="79" height="27" rx="7"/><text x="3626.5" y="841.5">honeybees</text></g>
<g id="n-rainforest" class="nd"><rect x="3681" y="823" width="78" height="39" rx="7"/><text x="3720" y="839">rain forest<tspan x="3720" dy="15">insect</tspan></text></g>
<g id="n-theanimals" class="nd"><rect x="3812" y="831" width="87" height="24" rx="7"/><text x="3855.5" y="847">the animals</text></g>
<g id="n-running" class="nd"><rect x="3103" y="975" width="131" height="27" rx="7"/><text x="3168.5" y="992.5">running away from</text></g>
<g id="n-alarm" class="nd"><rect x="3390" y="953" width="80" height="24" rx="7"/><text x="3430" y="969">alarm calls</text></g>
<g id="n-holes" class="nd"><rect x="3526" y="947" width="46" height="24" rx="7"/><text x="3549" y="963">holes</text></g>
<g id="n-doing" class="nd"><rect x="3838" y="937" width="49" height="27" rx="7"/><text x="3862.5" y="954.5">doing</text></g>
<g id="n-termites" class="nd"><rect x="3519" y="1043" width="66" height="25" rx="7"/><text x="3552" y="1059.5">termites</text></g>
<g id="n-relative" class="nd"><rect x="3823" y="1051" width="92" height="25" rx="7"/><text x="3869" y="1067.5">relative facts</text></g>
<g id="n-frightening" class="nd"><rect x="3104" y="1058" width="138" height="27" rx="7"/><text x="3173" y="1075.5">frightening stimulus</text></g>
<g id="n-branch" class="nd"><rect x="3526" y="1163" width="56" height="25" rx="7"/><text x="3554" y="1179.5">branch</text></g>
<g id="n-scream" class="nd"><rect x="562" y="1603" width="58" height="23" rx="7"/><text x="591" y="1618.5">scream</text></g>
<g id="n-panthoots" class="nd"><rect x="613" y="1651" width="79" height="27" rx="7"/><text x="652.5" y="1668.5">pant-hoots</text></g>
<g id="n-grunt" class="nd"><rect x="706" y="1658" width="47" height="27" rx="7"/><text x="729.5" y="1675.5">grunt</text></g>
<g id="n-authors" class="nd"><rect x="1" y="1662" width="289" height="27" rx="7"/><text x="145.5" y="1679.5">Authors: David Choi &amp; Courtney Lemmerman</text></g>
<g id="n-literature" class="nd"><rect x="1" y="1703" width="1082" height="70" rx="8"/>
<text class="lit" x="91" y="1720" textLength="805" lengthAdjust="spacingAndGlyphs" xml:space="preserve">Literature Cited:Cohen, J. (Photographs by J. Walker).  2010.  Thinking like a chimpanzee.  Smithsonian Magazine 41 (5: September 2010):  50-57.</text>
<text class="lit" x="210" y="1734" textLength="651" lengthAdjust="spacingAndGlyphs" xml:space="preserve">Borenstein, S.  2012.  ‘The Thinker’, nonhuman variety.  The Washington Post.  E2.  Tuesday July 17, 2012.</text>
<text class="lit" x="7" y="1748" textLength="1068" lengthAdjust="spacingAndGlyphs" xml:space="preserve">Griffin, D. R.  Reprinted in 2010.  Animal thinking. In:  Exploring Animal Behavior: Readings from American Scientist (5th edition) pp. 76-84. (Eds: P. W. Sherman, J. Alcock).</text></g>
<g id="n-graphics" class="nd"><rect x="15" y="1784" width="102" height="27" rx="7"/><text x="66" y="1801.5">Graphics Cited</text></g>
</svg>
